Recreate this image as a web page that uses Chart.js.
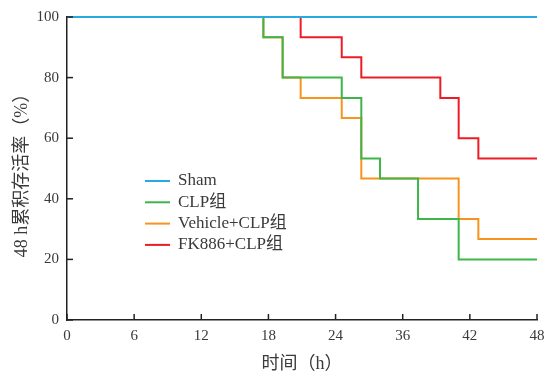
<!DOCTYPE html>
<html>
<head>
<meta charset="utf-8">
<script src="https://cdn.jsdelivr.net/npm/chart.js@4.4.1/dist/chart.umd.min.js"></script>
<style>
  body { margin: 0; background: #fff; }
  #wrap { width: 546px; height: 374px; }
</style>
</head>
<body>
<div id="wrap"><canvas id="survivalChart"></canvas></div>
<script>
// tick labels of the x axis (evenly spaced, the original skips 30)
const xTickLabels = ['0', '6', '12', '18', '24', '36', '42', '48'];
const yTicks = [0, 20, 40, 60, 80, 100];

// series names and colours
const groupNames = ['Sham', 'CLP组', 'Vehicle+CLP组', 'FK886+CLP组'];
const groupColors = ['#29a9e1', '#3db54a', '#f7941e', '#ed1c24'];

// step points, x in axis units (one tick = 6)
const shamTime = [0, 42];
const shamRate = [100, 100];
const clpTime = [0, 17.55, 19.27, 24.55, 26.3, 27.97, 31.37, 35.0, 42];
const clpRate = [100, 93.3, 80, 73.3, 53.3, 46.7, 33.3, 20, 20];
const vehicleTime = [0, 17.55, 19.27, 20.88, 24.55, 26.3, 35.0, 36.76, 42];
const vehicleRate = [100, 93.3, 80, 73.3, 66.7, 46.7, 33.3, 26.7, 26.7];
const fkTime = [0, 20.88, 24.55, 26.3, 33.36, 35.0, 36.76, 42];
const fkRate = [100, 93.3, 86.7, 80, 73.3, 60, 53.3, 53.3];

const seriesTimes = [shamTime, clpTime, vehicleTime, fkTime];
const seriesRates = [shamRate, clpRate, vehicleRate, fkRate];

const serif = '"Liberation Serif", "Noto Sans CJK SC", serif';
const textColor = '#3a3a3a';

function toPoints(times, rates) {
    return times.map((t, i) => ({ x: t, y: rates[i] }));
}

const datasets = groupNames.map((name, i) => ({
    label: name,
    data: toPoints(seriesTimes[i], seriesRates[i]),
    borderColor: groupColors[i],
    backgroundColor: groupColors[i],
    borderWidth: 2,
    pointRadius: 0,
    stepped: true,
    fill: false,
    clip: false
}));

// inward tick marks, custom legend and axis titles
const decorPlugin = {
    id: 'decor',
    afterDraw(chart) {
        const ctx = chart.ctx;
        const xs = chart.scales.x;
        const ys = chart.scales.y;
        const area = chart.chartArea;
        ctx.save();
        ctx.strokeStyle = '#222';
        ctx.lineWidth = 1.5;
        xs.ticks.forEach((t, i) => {
            const px = xs.getPixelForTick(i);
            ctx.beginPath();
            ctx.moveTo(px, area.bottom);
            ctx.lineTo(px, area.bottom - 6);
            ctx.stroke();
        });
        ys.ticks.forEach((t, i) => {
            const py = ys.getPixelForTick(i);
            ctx.beginPath();
            ctx.moveTo(area.left, py);
            ctx.lineTo(area.left + 6, py);
            ctx.stroke();
        });

        // legend
        ctx.font = '17px ' + serif;
        ctx.textBaseline = 'middle';
        ctx.fillStyle = textColor;
        groupNames.forEach((name, i) => {
            const y = 181 + i * 21.3;
            ctx.strokeStyle = groupColors[i];
            ctx.lineWidth = 2;
            ctx.beginPath();
            ctx.moveTo(145, y);
            ctx.lineTo(170, y);
            ctx.stroke();
            ctx.fillText(name, 178, y);
        });

        // axis titles
        ctx.font = '18px ' + serif;
        ctx.textAlign = 'center';
        ctx.fillText('时间（h）', (area.left + area.right) / 2, 364);
        ctx.translate(22, 171);
        ctx.rotate(-Math.PI / 2);
        ctx.fillText('48 h累积存活率（%）', 0, 0);
        ctx.restore();
    }
};

new Chart(document.getElementById('survivalChart'), {
    type: 'line',
    data: { datasets: datasets },
    options: {
        responsive: true,
        maintainAspectRatio: false,
        animation: false,
        layout: { padding: { top: 17, right: 9, left: 0, bottom: 0 } },
        plugins: {
            legend: { display: false },
            tooltip: { enabled: false }
        },
        scales: {
            x: {
                type: 'linear',
                min: 0,
                max: 42,
                afterFit: (scale) => {
                    scale.height = 54;
                    scale.paddingRight = 0;
                    scale.paddingLeft = 0;
                },
                afterBuildTicks: (scale) => {
                    scale.ticks = xTickLabels.map((_, i) => ({ value: i * 6 }));
                },
                grid: { display: false, drawTicks: false },
                border: { display: true, color: '#222', width: 1.5 },
                ticks: {
                    callback: (v, i) => xTickLabels[i],
                    font: { family: serif, size: 15 },
                    color: textColor,
                    padding: 7,
                    maxRotation: 0,
                    autoSkip: false
                }
            },
            y: {
                min: 0,
                max: 100,
                afterFit: (scale) => { scale.width = 67; },
                afterBuildTicks: (scale) => {
                    scale.ticks = yTicks.map(v => ({ value: v }));
                },
                grid: { display: false, drawTicks: false },
                border: { display: true, color: '#222', width: 1.5 },
                ticks: {
                    font: { family: serif, size: 15 },
                    color: textColor,
                    padding: 8
                }
            }
        }
    },
    plugins: [decorPlugin]
});
</script>
</body>
</html>
